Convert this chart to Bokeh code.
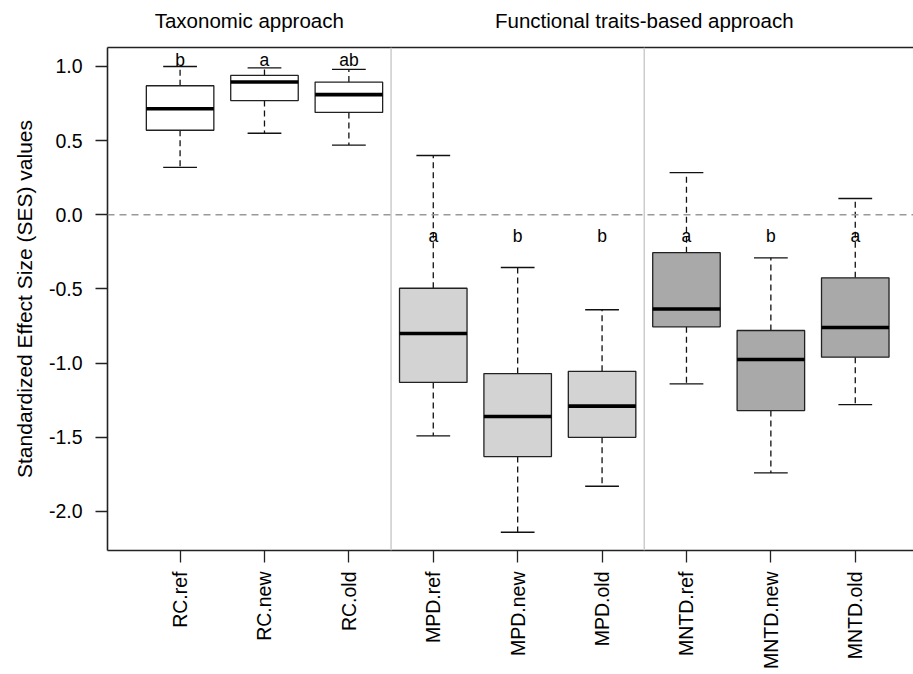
import math
from bokeh.plotting import figure
from bokeh.models import Range1d, Span, FixedTicker, LinearAxis
from bokeh.core.properties import value
from bokeh.embed import file_html
from bokeh.resources import INLINE

# ---- data ----
categories = ["RC.ref", "RC.new", "RC.old", "MPD.ref", "MPD.new", "MPD.old",
              "MNTD.ref", "MNTD.new", "MNTD.old"]
whisker_low = [0.32, 0.55, 0.47, -1.49, -2.14, -1.83, -1.14, -1.74, -1.28]
q1 = [0.57, 0.77, 0.69, -1.13, -1.63, -1.50, -0.755, -1.32, -0.96]
median = [0.715, 0.895, 0.81, -0.80, -1.36, -1.29, -0.635, -0.975, -0.76]
q3 = [0.87, 0.94, 0.895, -0.495, -1.07, -1.055, -0.255, -0.78, -0.425]
whisker_high = [1.00, 0.99, 0.98, 0.40, -0.355, -0.64, 0.285, -0.29, 0.11]
groups = ["tax", "tax", "tax", "mpd", "mpd", "mpd", "mntd", "mntd", "mntd"]
letters = ["b", "a", "ab", "a", "b", "b", "a", "b", "a"]
letter_y = [1.045, 1.045, 1.045, -0.14, -0.14, -0.14, -0.14, -0.14, -0.14]
section_titles = ["Taxonomic approach", "Functional traits-based approach"]
y_ticks = [-2.0, -1.5, -1.0, -0.5, 0.0, 0.5, 1.0]
y_tick_labels = ["-2.0", "-1.5", "-1.0", "-0.5", "0.0", "0.5", "1.0"]
y_label = "Standardized Effect Size (SES) values"

fill_map = {"tax": "#ffffff", "mpd": "#d3d3d3", "mntd": "#a9a9a9"}
FONT = "Liberation Sans"

xs = list(range(1, len(categories) + 1))
x_start, x_end = 0.14, 9.69
y_start, y_end = -2.263, 1.128

p = figure(width=913, height=674, output_backend="svg", toolbar_location=None,
           x_range=Range1d(x_start, x_end), y_range=Range1d(y_start, y_end),
           min_border_left=107, min_border_right=0, min_border_top=47,
           min_border_bottom=124)
p.outline_line_color = None
p.background_fill_color = "white"
p.border_fill_color = "white"
p.xgrid.visible = False
p.ygrid.visible = False

# separators and zero line
for sep in [3.5, 6.5]:
    p.add_layout(Span(location=sep, dimension="height", line_color="#cccccc",
                      line_width=1.5))
p.add_layout(Span(location=0, dimension="width", line_color="#999999",
                  line_width=1.4, line_dash="7 5"))

box_w = 0.8
cap_w = 0.4
fills = [fill_map[g] for g in groups]

# whiskers (dashed)
p.segment(x0=xs, y0=q3, x1=xs, y1=whisker_high, line_color="#111111",
          line_width=1.3, line_dash="6 4")
p.segment(x0=xs, y0=q1, x1=xs, y1=whisker_low, line_color="#111111",
          line_width=1.3, line_dash="6 4")
# caps
p.segment(x0=[x - cap_w / 2 for x in xs], y0=whisker_high,
          x1=[x + cap_w / 2 for x in xs], y1=whisker_high,
          line_color="#111111", line_width=1.3)
p.segment(x0=[x - cap_w / 2 for x in xs], y0=whisker_low,
          x1=[x + cap_w / 2 for x in xs], y1=whisker_low,
          line_color="#111111", line_width=1.3)
# boxes
p.vbar(x=xs, width=box_w, bottom=q1, top=q3, fill_color=fills,
       line_color="#222222", line_width=1.3)
# medians
p.segment(x0=[x - box_w / 2 for x in xs], y0=median,
          x1=[x + box_w / 2 for x in xs], y1=median,
          line_color="black", line_width=3.6)

# significance letters
p.text(x=xs, y=letter_y, text=letters, text_align="center",
       text_baseline="middle", text_font=value(FONT),
       text_font_size="17.5px", text_color="black")

# bottom and left axes
bottom = p.below[0]
left = p.left[0]
bottom.ticker = FixedTicker(ticks=xs)
bottom.major_label_overrides = {x: c for x, c in zip(xs, categories)}
bottom.major_label_orientation = math.pi / 2
left.ticker = FixedTicker(ticks=y_ticks)
left.major_label_overrides = {t: l for t, l in zip(y_ticks, y_tick_labels)}
left.axis_label = y_label

for ax in (bottom, left):
    ax.axis_line_color = "#222222"
    ax.axis_line_width = 1.6
    ax.major_tick_line_color = "#222222"
    ax.major_tick_line_width = 1.3
    ax.major_tick_out = 12
    ax.major_tick_in = 0
    ax.minor_tick_line_color = None
    ax.major_label_text_font = FONT
    ax.major_label_text_color = "black"
    ax.axis_label_text_font = FONT
    ax.axis_label_text_font_style = "normal"
    ax.axis_label_text_color = "black"

bottom.major_label_text_font_size = "19.5px"
left.major_label_text_font_size = "19.5px"
left.axis_label_text_font_size = "21px"
bottom.major_label_standoff = 9
left.major_label_standoff = 13
left.axis_label_standoff = 10

# section titles as an unticked top axis (its line is the top border)
title_x = [(x_start + 3.5) / 2, (3.5 + 9.5) / 2]
top_axis = LinearAxis(ticker=FixedTicker(ticks=title_x),
                      major_label_overrides={t: s for t, s in zip(title_x, section_titles)})
top_axis.axis_line_color = "#222222"
top_axis.axis_line_width = 1.6
top_axis.major_tick_line_color = None
top_axis.minor_tick_line_color = None
top_axis.major_tick_out = 0
top_axis.major_tick_in = 0
top_axis.major_label_standoff = 16
top_axis.major_label_text_font = FONT
top_axis.major_label_text_font_size = "20.5px"
top_axis.major_label_text_color = "black"
p.add_layout(top_axis, "above")

open("out.html", "w").write(file_html(p, INLINE))
